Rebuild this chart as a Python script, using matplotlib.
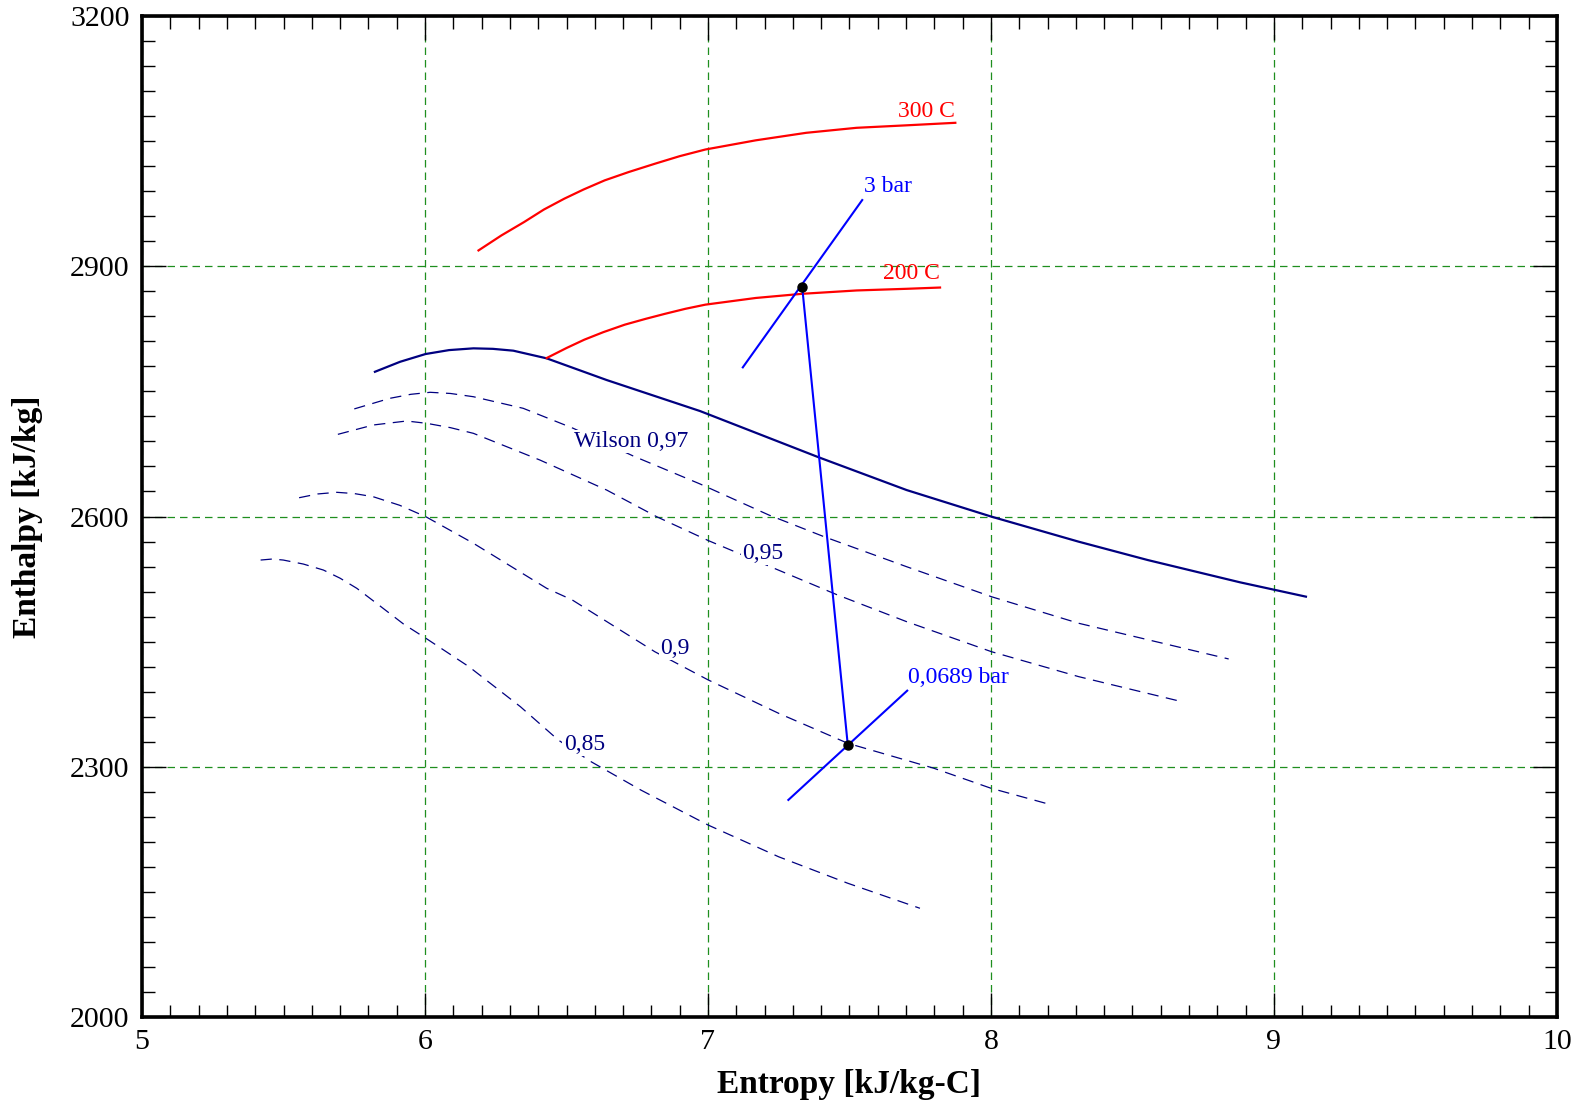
import matplotlib

matplotlib.use("Agg")

import matplotlib.pyplot as plt
import numpy as np
from matplotlib.ticker import FixedLocator

# Saturated vapour line (solid navy).
sat_s = [5.823, 5.912, 6.002, 6.085, 6.171, 6.240, 6.312, 6.430, 6.642,
         6.972, 7.391, 7.702, 8.002, 8.310, 8.554, 8.880, 9.113]
sat_h = [2773.5, 2785.5, 2794.8, 2799.5, 2801.6, 2801.0, 2798.8, 2789.6,
         2763.6, 2726.4, 2671.0, 2631.7, 2599.8, 2569.8, 2547.8, 2521.1,
         2503.9]

# Isotherms (red).
t300_s = [6.189, 6.270, 6.350, 6.420, 6.492, 6.560, 6.635, 6.720, 6.813,
          6.900, 6.991, 7.169, 7.347, 7.525, 7.703, 7.874]
t300_h = [2919, 2937, 2953, 2968, 2981, 2992, 3003, 3013, 3023, 3032,
          3040, 3051, 3060, 3066, 3069, 3072]

t200_s = [6.430, 6.500, 6.563, 6.630, 6.706, 6.780, 6.848, 6.920, 6.991,
          7.169, 7.333, 7.525, 7.703, 7.820]
t200_h = [2790, 2802, 2812, 2821, 2830, 2837, 2843, 2849, 2854, 2862,
          2867, 2871, 2873, 2874.5]

# Wilson lines / constant quality (dashed navy).
w97_s = [5.750, 5.876, 5.950, 6.018, 6.090, 6.171, 6.347, 6.524, 6.736,
         6.972, 7.215, 7.410, 7.702, 8.002, 8.310, 8.840]
w97_h = [2729, 2741.7, 2746.5, 2748.9, 2747.5, 2743.6, 2729.7, 2705.7,
         2672.5, 2639, 2601.8, 2575.8, 2539.8, 2503.8, 2472, 2429.2]

q95_s = [5.692, 5.817, 5.935, 6.006, 6.090, 6.171, 6.406, 6.642, 6.819,
         7.002, 7.458, 7.702, 8.002, 8.310, 8.660]
q95_h = [2698.5, 2709.7, 2714.5, 2711.7, 2706.5, 2699.7, 2667.7, 2631.7,
         2599.7, 2571, 2505.9, 2473.9, 2437.9, 2408, 2379.2]

q90_s = [5.555, 5.620, 5.688, 5.750, 5.817, 5.910, 6.003, 6.171, 6.277,
         6.430, 6.520, 6.812, 7.001, 7.250, 7.494, 7.798, 8.000, 8.206]
q90_h = [2622.5, 2627, 2629, 2627.5, 2623.7, 2613.5, 2599.7, 2567.9,
         2545.8, 2513.9, 2500, 2437.9, 2404, 2364, 2328.1, 2298.2, 2274.2,
         2255]

q85_s = [5.419, 5.460, 5.499, 5.570, 5.641, 5.700, 5.759, 5.840, 5.924,
         6.003, 6.155, 6.337, 6.471, 6.587, 6.763, 7.001, 7.250, 7.494,
         7.749]
q85_h = [2547.8, 2549, 2547.8, 2543, 2535.8, 2526, 2513.9, 2493, 2471.1,
         2454, 2420, 2372, 2332, 2306, 2272, 2230, 2192, 2160.3, 2130.3]

# Isobars (blue) and expansion states.
p3_s = [7.123, 7.545]
p3_h = [2778.8, 2979.4]
p0689_s = [7.284, 7.704]
p0689_h = [2260.2, 2391.2]
state_s = [7.333, 7.494]
state_h = [2874.7, 2326.0]

x_major = [5, 6, 7, 8, 9, 10]
y_major = [2000, 2300, 2600, 2900, 3200]

plt.rcParams["font.family"] = ["Liberation Serif", "DejaVu Serif"]

fig = plt.figure(figsize=(15.8, 11.06), dpi=100)
ax = fig.add_axes([0.0899, 0.0805, 0.8955, 0.905])

navy = "#000080"
dash = (0, (9, 6))

ax.plot(sat_s, sat_h, color=navy, lw=1.6, zorder=3)
ax.plot(t300_s, t300_h, color="red", lw=1.6, zorder=3)
ax.plot(t200_s, t200_h, color="red", lw=1.6, zorder=3)
for s, h in [(w97_s, w97_h), (q95_s, q95_h), (q90_s, q90_h), (q85_s, q85_h)]:
    ax.plot(s, h, color=navy, lw=0.9, linestyle=dash, zorder=2)

ax.plot(p3_s, p3_h, color="blue", lw=1.5, zorder=3)
ax.plot(p0689_s, p0689_h, color="blue", lw=1.5, zorder=3)
ax.plot(state_s, state_h, color="blue", lw=1.5, zorder=3)
ax.plot(state_s, state_h, linestyle="none", marker="o", ms=6.5,
        color="black", zorder=4)

# Labels
box = dict(facecolor="white", edgecolor="none", pad=1.0)
ax.text(6.729, 2690, "Wilson 0,97", color=navy, fontsize=17,
        ha="center", va="center", bbox=box, zorder=5)
ax.text(7.193, 2556, "0,95", color=navy, fontsize=17,
        ha="center", va="center", bbox=box, zorder=5)
ax.text(6.882, 2442, "0,9", color=navy, fontsize=17,
        ha="center", va="center", bbox=box, zorder=5)
ax.text(6.563, 2327, "0,85", color=navy, fontsize=17,
        ha="center", va="center", bbox=box, zorder=5)
ax.text(7.873, 3073, "300 C", color="red", fontsize=17,
        ha="right", va="bottom")
ax.text(7.82, 2879, "200 C", color="red", fontsize=17,
        ha="right", va="bottom")
ax.text(7.552, 2983, "3 bar", color="blue", fontsize=17,
        ha="left", va="bottom")
ax.text(7.707, 2394, "0,0689 bar", color="blue", fontsize=17,
        ha="left", va="bottom")

ax.set_xlim(5, 10)
ax.set_ylim(2000, 3200)
ax.xaxis.set_major_locator(FixedLocator(x_major))
ax.xaxis.set_minor_locator(FixedLocator(np.arange(5.0, 10.001, 0.1)))
ax.yaxis.set_major_locator(FixedLocator(y_major))
ax.yaxis.set_minor_locator(FixedLocator(np.arange(2000, 3201, 30)))

ax.tick_params(which="both", direction="in", top=True, right=True,
               labelsize=21.5, width=1.0, color="black")
ax.tick_params(which="major", length=17, pad=9)
ax.tick_params(which="minor", length=9)
for spine in ax.spines.values():
    spine.set_linewidth(2.6)

ax.grid(True, which="major", color="#1f8f1f", linestyle=(0, (6, 4)),
        linewidth=0.9)

ax.set_xlabel("Entropy [kJ/kg-C]", fontsize=24, fontweight="bold")
ax.set_ylabel("Enthalpy [kJ/kg]", fontsize=24, fontweight="bold")
ax.xaxis.set_label_coords(0.5, -0.052)
ax.yaxis.set_label_coords(-0.070, 0.5)

fig.savefig("out.png", dpi=100)
